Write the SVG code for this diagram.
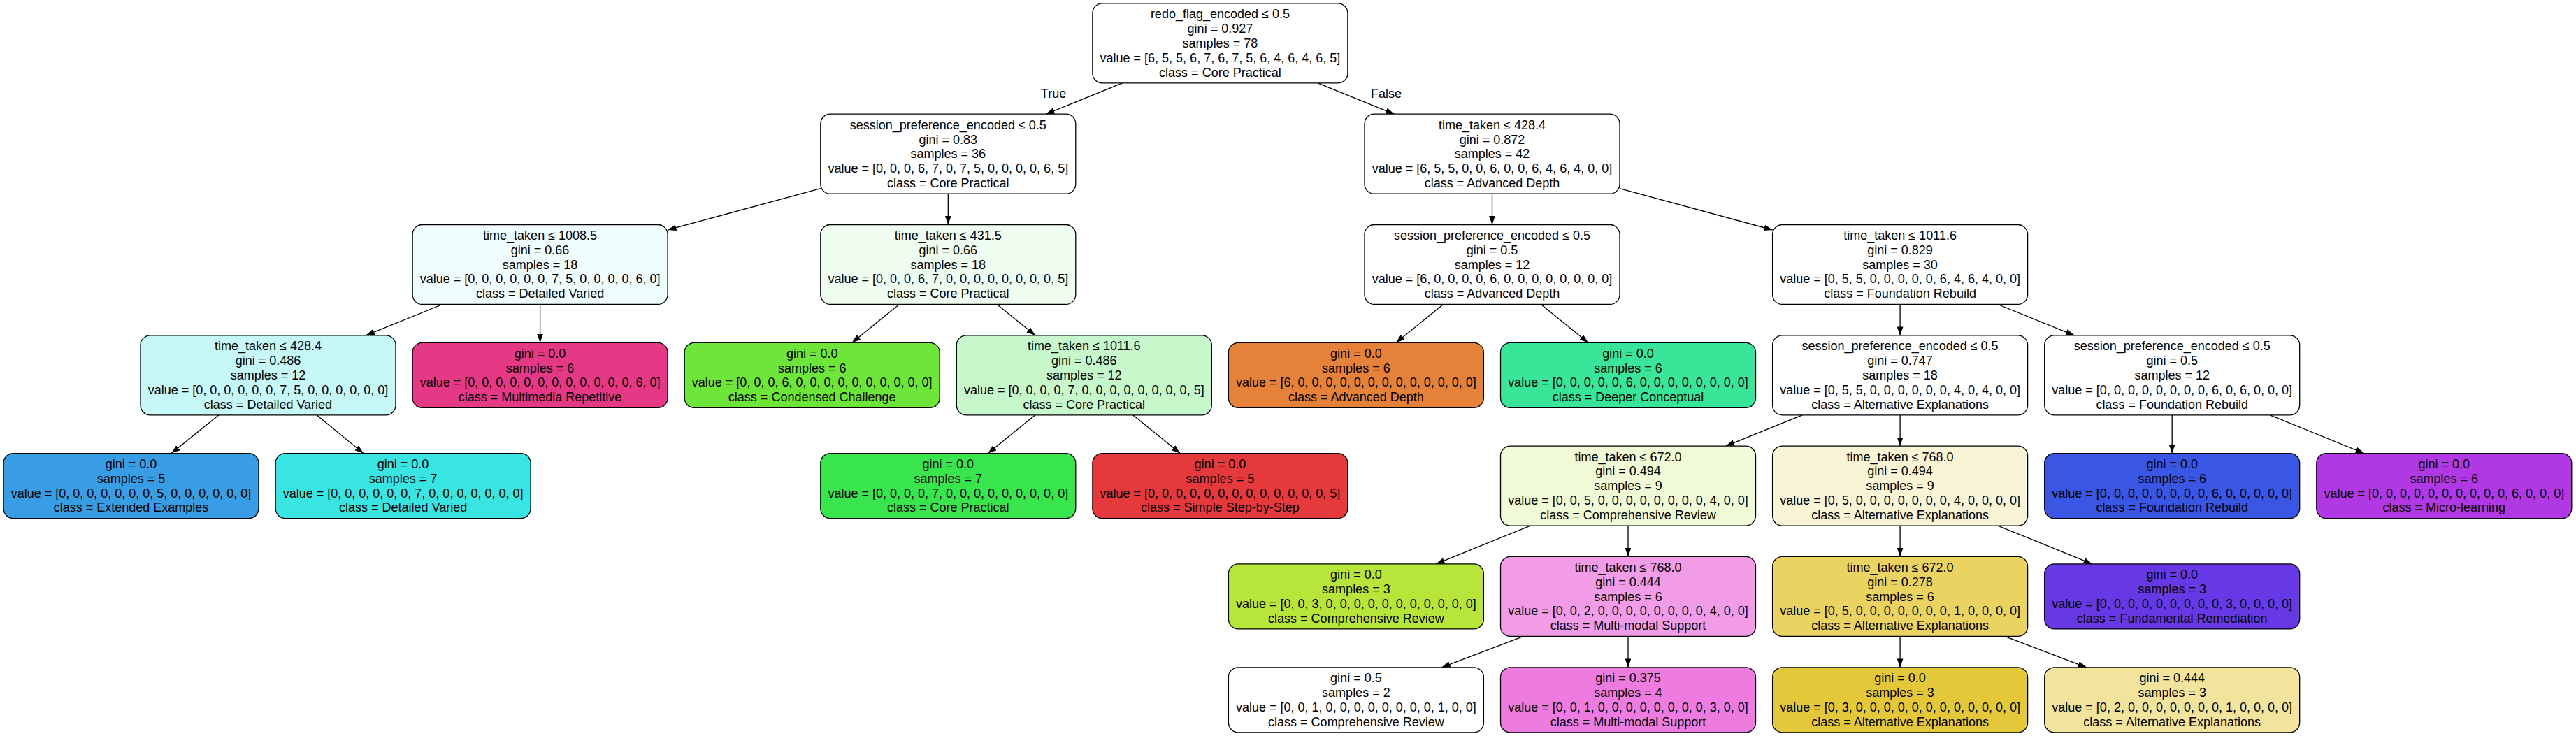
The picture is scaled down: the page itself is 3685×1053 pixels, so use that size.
<svg xmlns="http://www.w3.org/2000/svg" width="3685" height="1053" viewBox="0 0 3685 1053">
<style>
rect{stroke:#000;stroke-width:1.3}
text{font-family:"Liberation Sans",Helvetica,Arial,sans-serif;font-size:18px;text-anchor:middle;fill:#000}
.e line{stroke:#000;stroke-width:1.3;marker-end:url(#ah)}
</style>
<defs>
<marker id="ah" markerUnits="userSpaceOnUse" markerWidth="13" markerHeight="10" refX="12.4" refY="4.4" orient="auto">
<path d="M0,0 L12.4,4.4 L0,8.8 z" fill="#000"/>
</marker>
</defs>
<rect x="0" y="0" width="3685" height="1053" fill="#fff" style="stroke:none"/>
<g class="e" id="edges">
<line x1="1605.5" y1="118.8" x2="1496.1" y2="163.3"/>
<line x1="1885.2" y1="118.8" x2="1994.6" y2="163.3"/>
<line x1="1173.8" y1="269.7" x2="955.1" y2="329.0"/>
<line x1="1356.3" y1="277.2" x2="1356.3" y2="321.5"/>
<line x1="2134.5" y1="277.2" x2="2134.5" y2="321.5"/>
<line x1="2317.0" y1="269.7" x2="2535.6" y2="329.0"/>
<line x1="632.8" y1="435.5" x2="523.4" y2="479.8"/>
<line x1="772.6" y1="435.5" x2="772.6" y2="490.3"/>
<line x1="1286.3" y1="435.5" x2="1218.8" y2="490.3"/>
<line x1="1426.2" y1="435.5" x2="1480.9" y2="479.8"/>
<line x1="2064.5" y1="435.5" x2="1997.0" y2="490.3"/>
<line x1="2204.4" y1="435.5" x2="2271.9" y2="490.3"/>
<line x1="2718.1" y1="435.5" x2="2718.1" y2="479.8"/>
<line x1="2858.0" y1="435.5" x2="2967.4" y2="479.8"/>
<line x1="313.1" y1="593.8" x2="245.1" y2="648.6"/>
<line x1="452.9" y1="593.8" x2="519.9" y2="648.6"/>
<line x1="1480.9" y1="593.8" x2="1413.4" y2="648.6"/>
<line x1="1620.7" y1="593.8" x2="1688.2" y2="648.6"/>
<line x1="2578.3" y1="593.8" x2="2468.9" y2="638.1"/>
<line x1="2718.1" y1="593.8" x2="2718.1" y2="638.1"/>
<line x1="3107.2" y1="593.8" x2="3107.2" y2="648.6"/>
<line x1="3247.1" y1="593.8" x2="3382.0" y2="648.6"/>
<line x1="2189.2" y1="752.1" x2="2054.2" y2="806.9"/>
<line x1="2329.0" y1="752.1" x2="2329.0" y2="796.4"/>
<line x1="2718.1" y1="752.1" x2="2718.1" y2="796.4"/>
<line x1="2858.0" y1="752.1" x2="2992.9" y2="806.9"/>
<line x1="2179.3" y1="910.4" x2="2062.2" y2="954.8"/>
<line x1="2329.0" y1="910.4" x2="2329.0" y2="954.8"/>
<line x1="2718.1" y1="910.4" x2="2718.1" y2="954.8"/>
<line x1="2867.8" y1="910.4" x2="2984.9" y2="954.8"/>
</g>
<g id="edge-labels">
<text x="1507" y="139.5">True</text>
<text x="1983" y="139.5">False</text>
</g>
<g id="n0"><rect x="1562.9" y="4.9" width="365" height="114" rx="14" fill="#ffffff"/>
<text><tspan x="1745.4" y="26.4">redo_flag_encoded ≤ 0.5</tspan><tspan x="1745.4" y="47.2">gini = 0.927</tspan><tspan x="1745.4" y="68.0">samples = 78</tspan><tspan x="1745.4" y="88.8">value = [6, 5, 5, 6, 7, 6, 7, 5, 6, 4, 6, 4, 6, 5]</tspan><tspan x="1745.4" y="109.6">class = Core Practical</tspan></text></g>
<g id="n1"><rect x="1173.8" y="163.2" width="365" height="114" rx="14" fill="#ffffff"/>
<text><tspan x="1356.3" y="184.7">session_preference_encoded ≤ 0.5</tspan><tspan x="1356.3" y="205.5">gini = 0.83</tspan><tspan x="1356.3" y="226.3">samples = 36</tspan><tspan x="1356.3" y="247.1">value = [0, 0, 0, 6, 7, 0, 7, 5, 0, 0, 0, 0, 6, 5]</tspan><tspan x="1356.3" y="267.9">class = Core Practical</tspan></text></g>
<g id="n2"><rect x="1952.0" y="163.2" width="365" height="114" rx="14" fill="#ffffff"/>
<text><tspan x="2134.5" y="184.7">time_taken ≤ 428.4</tspan><tspan x="2134.5" y="205.5">gini = 0.872</tspan><tspan x="2134.5" y="226.3">samples = 42</tspan><tspan x="2134.5" y="247.1">value = [6, 5, 5, 0, 0, 6, 0, 0, 6, 4, 6, 4, 0, 0]</tspan><tspan x="2134.5" y="267.9">class = Advanced Depth</tspan></text></g>
<g id="n3"><rect x="590.1" y="321.5" width="365" height="114" rx="14" fill="#effdfd"/>
<text><tspan x="772.6" y="343.0">time_taken ≤ 1008.5</tspan><tspan x="772.6" y="363.8">gini = 0.66</tspan><tspan x="772.6" y="384.6">samples = 18</tspan><tspan x="772.6" y="405.4">value = [0, 0, 0, 0, 0, 0, 7, 5, 0, 0, 0, 0, 6, 0]</tspan><tspan x="772.6" y="426.2">class = Detailed Varied</tspan></text></g>
<g id="n4"><rect x="1173.8" y="321.5" width="365" height="114" rx="14" fill="#eefdf0"/>
<text><tspan x="1356.3" y="343.0">time_taken ≤ 431.5</tspan><tspan x="1356.3" y="363.8">gini = 0.66</tspan><tspan x="1356.3" y="384.6">samples = 18</tspan><tspan x="1356.3" y="405.4">value = [0, 0, 0, 6, 7, 0, 0, 0, 0, 0, 0, 0, 0, 5]</tspan><tspan x="1356.3" y="426.2">class = Core Practical</tspan></text></g>
<g id="n5"><rect x="1952.0" y="321.5" width="365" height="114" rx="14" fill="#ffffff"/>
<text><tspan x="2134.5" y="343.0">session_preference_encoded ≤ 0.5</tspan><tspan x="2134.5" y="363.8">gini = 0.5</tspan><tspan x="2134.5" y="384.6">samples = 12</tspan><tspan x="2134.5" y="405.4">value = [6, 0, 0, 0, 0, 6, 0, 0, 0, 0, 0, 0, 0, 0]</tspan><tspan x="2134.5" y="426.2">class = Advanced Depth</tspan></text></g>
<g id="n6"><rect x="2535.6" y="321.5" width="365" height="114" rx="14" fill="#ffffff"/>
<text><tspan x="2718.1" y="343.0">time_taken ≤ 1011.6</tspan><tspan x="2718.1" y="363.8">gini = 0.829</tspan><tspan x="2718.1" y="384.6">samples = 30</tspan><tspan x="2718.1" y="405.4">value = [0, 5, 5, 0, 0, 0, 0, 0, 6, 4, 6, 4, 0, 0]</tspan><tspan x="2718.1" y="426.2">class = Foundation Rebuild</tspan></text></g>
<g id="n7"><rect x="201.0" y="479.8" width="365" height="114" rx="14" fill="#c6f8f7"/>
<text><tspan x="383.5" y="501.3">time_taken ≤ 428.4</tspan><tspan x="383.5" y="522.1">gini = 0.486</tspan><tspan x="383.5" y="542.9">samples = 12</tspan><tspan x="383.5" y="563.7">value = [0, 0, 0, 0, 0, 0, 7, 5, 0, 0, 0, 0, 0, 0]</tspan><tspan x="383.5" y="584.5">class = Detailed Varied</tspan></text></g>
<g id="n8"><rect x="590.1" y="490.3" width="365" height="93" rx="14" fill="#e53986"/>
<text><tspan x="772.6" y="511.7">gini = 0.0</tspan><tspan x="772.6" y="532.5">samples = 6</tspan><tspan x="772.6" y="553.3">value = [0, 0, 0, 0, 0, 0, 0, 0, 0, 0, 0, 0, 6, 0]</tspan><tspan x="772.6" y="574.1">class = Multimedia Repetitive</tspan></text></g>
<g id="n9"><rect x="979.2" y="490.3" width="365" height="93" rx="14" fill="#6de539"/>
<text><tspan x="1161.7" y="511.7">gini = 0.0</tspan><tspan x="1161.7" y="532.5">samples = 6</tspan><tspan x="1161.7" y="553.3">value = [0, 0, 0, 6, 0, 0, 0, 0, 0, 0, 0, 0, 0, 0]</tspan><tspan x="1161.7" y="574.1">class = Condensed Challenge</tspan></text></g>
<g id="n10"><rect x="1368.3" y="479.8" width="365" height="114" rx="14" fill="#c6f8cc"/>
<text><tspan x="1550.8" y="501.3">time_taken ≤ 1011.6</tspan><tspan x="1550.8" y="522.1">gini = 0.486</tspan><tspan x="1550.8" y="542.9">samples = 12</tspan><tspan x="1550.8" y="563.7">value = [0, 0, 0, 0, 7, 0, 0, 0, 0, 0, 0, 0, 0, 5]</tspan><tspan x="1550.8" y="584.5">class = Core Practical</tspan></text></g>
<g id="n11"><rect x="1757.4" y="490.3" width="365" height="93" rx="14" fill="#e58139"/>
<text><tspan x="1939.9" y="511.7">gini = 0.0</tspan><tspan x="1939.9" y="532.5">samples = 6</tspan><tspan x="1939.9" y="553.3">value = [6, 0, 0, 0, 0, 0, 0, 0, 0, 0, 0, 0, 0, 0]</tspan><tspan x="1939.9" y="574.1">class = Advanced Depth</tspan></text></g>
<g id="n12"><rect x="2146.5" y="490.3" width="365" height="93" rx="14" fill="#39e598"/>
<text><tspan x="2329.0" y="511.7">gini = 0.0</tspan><tspan x="2329.0" y="532.5">samples = 6</tspan><tspan x="2329.0" y="553.3">value = [0, 0, 0, 0, 0, 6, 0, 0, 0, 0, 0, 0, 0, 0]</tspan><tspan x="2329.0" y="574.1">class = Deeper Conceptual</tspan></text></g>
<g id="n13"><rect x="2535.6" y="479.8" width="365" height="114" rx="14" fill="#ffffff"/>
<text><tspan x="2718.1" y="501.3">session_preference_encoded ≤ 0.5</tspan><tspan x="2718.1" y="522.1">gini = 0.747</tspan><tspan x="2718.1" y="542.9">samples = 18</tspan><tspan x="2718.1" y="563.7">value = [0, 5, 5, 0, 0, 0, 0, 0, 0, 4, 0, 4, 0, 0]</tspan><tspan x="2718.1" y="584.5">class = Alternative Explanations</tspan></text></g>
<g id="n14"><rect x="2924.7" y="479.8" width="365" height="114" rx="14" fill="#ffffff"/>
<text><tspan x="3107.2" y="501.3">session_preference_encoded ≤ 0.5</tspan><tspan x="3107.2" y="522.1">gini = 0.5</tspan><tspan x="3107.2" y="542.9">samples = 12</tspan><tspan x="3107.2" y="563.7">value = [0, 0, 0, 0, 0, 0, 0, 0, 6, 0, 6, 0, 0, 0]</tspan><tspan x="3107.2" y="584.5">class = Foundation Rebuild</tspan></text></g>
<g id="n15"><rect x="5.0" y="648.6" width="365" height="93" rx="14" fill="#399de5"/>
<text><tspan x="187.5" y="670.0">gini = 0.0</tspan><tspan x="187.5" y="690.8">samples = 5</tspan><tspan x="187.5" y="711.6">value = [0, 0, 0, 0, 0, 0, 0, 5, 0, 0, 0, 0, 0, 0]</tspan><tspan x="187.5" y="732.4">class = Extended Examples</tspan></text></g>
<g id="n16"><rect x="394.1" y="648.6" width="365" height="93" rx="14" fill="#39e5e2"/>
<text><tspan x="576.6" y="670.0">gini = 0.0</tspan><tspan x="576.6" y="690.8">samples = 7</tspan><tspan x="576.6" y="711.6">value = [0, 0, 0, 0, 0, 0, 7, 0, 0, 0, 0, 0, 0, 0]</tspan><tspan x="576.6" y="732.4">class = Detailed Varied</tspan></text></g>
<g id="n17"><rect x="1173.8" y="648.6" width="365" height="93" rx="14" fill="#39e54d"/>
<text><tspan x="1356.3" y="670.0">gini = 0.0</tspan><tspan x="1356.3" y="690.8">samples = 7</tspan><tspan x="1356.3" y="711.6">value = [0, 0, 0, 0, 7, 0, 0, 0, 0, 0, 0, 0, 0, 0]</tspan><tspan x="1356.3" y="732.4">class = Core Practical</tspan></text></g>
<g id="n18"><rect x="1562.9" y="648.6" width="365" height="93" rx="14" fill="#e5393c"/>
<text><tspan x="1745.4" y="670.0">gini = 0.0</tspan><tspan x="1745.4" y="690.8">samples = 5</tspan><tspan x="1745.4" y="711.6">value = [0, 0, 0, 0, 0, 0, 0, 0, 0, 0, 0, 0, 0, 5]</tspan><tspan x="1745.4" y="732.4">class = Simple Step-by-Step</tspan></text></g>
<g id="n19"><rect x="2146.5" y="638.1" width="365" height="114" rx="14" fill="#f1fad7"/>
<text><tspan x="2329.0" y="659.6">time_taken ≤ 672.0</tspan><tspan x="2329.0" y="680.4">gini = 0.494</tspan><tspan x="2329.0" y="701.2">samples = 9</tspan><tspan x="2329.0" y="722.0">value = [0, 0, 5, 0, 0, 0, 0, 0, 0, 0, 0, 4, 0, 0]</tspan><tspan x="2329.0" y="742.8">class = Comprehensive Review</tspan></text></g>
<g id="n20"><rect x="2535.6" y="638.1" width="365" height="114" rx="14" fill="#faf4d7"/>
<text><tspan x="2718.1" y="659.6">time_taken ≤ 768.0</tspan><tspan x="2718.1" y="680.4">gini = 0.494</tspan><tspan x="2718.1" y="701.2">samples = 9</tspan><tspan x="2718.1" y="722.0">value = [0, 5, 0, 0, 0, 0, 0, 0, 0, 4, 0, 0, 0, 0]</tspan><tspan x="2718.1" y="742.8">class = Alternative Explanations</tspan></text></g>
<g id="n21"><rect x="2924.7" y="648.6" width="365" height="93" rx="14" fill="#3956e5"/>
<text><tspan x="3107.2" y="670.0">gini = 0.0</tspan><tspan x="3107.2" y="690.8">samples = 6</tspan><tspan x="3107.2" y="711.6">value = [0, 0, 0, 0, 0, 0, 0, 0, 6, 0, 0, 0, 0, 0]</tspan><tspan x="3107.2" y="732.4">class = Foundation Rebuild</tspan></text></g>
<g id="n22"><rect x="3313.8" y="648.6" width="365" height="93" rx="14" fill="#b139e5"/>
<text><tspan x="3496.3" y="670.0">gini = 0.0</tspan><tspan x="3496.3" y="690.8">samples = 6</tspan><tspan x="3496.3" y="711.6">value = [0, 0, 0, 0, 0, 0, 0, 0, 0, 0, 6, 0, 0, 0]</tspan><tspan x="3496.3" y="732.4">class = Micro-learning</tspan></text></g>
<g id="n23"><rect x="1757.4" y="806.9" width="365" height="93" rx="14" fill="#b7e539"/>
<text><tspan x="1939.9" y="828.3">gini = 0.0</tspan><tspan x="1939.9" y="849.1">samples = 3</tspan><tspan x="1939.9" y="869.9">value = [0, 0, 3, 0, 0, 0, 0, 0, 0, 0, 0, 0, 0, 0]</tspan><tspan x="1939.9" y="890.7">class = Comprehensive Review</tspan></text></g>
<g id="n24"><rect x="2146.5" y="796.4" width="365" height="114" rx="14" fill="#f29ce8"/>
<text><tspan x="2329.0" y="817.9">time_taken ≤ 768.0</tspan><tspan x="2329.0" y="838.7">gini = 0.444</tspan><tspan x="2329.0" y="859.5">samples = 6</tspan><tspan x="2329.0" y="880.3">value = [0, 0, 2, 0, 0, 0, 0, 0, 0, 0, 0, 4, 0, 0]</tspan><tspan x="2329.0" y="901.1">class = Multi-modal Support</tspan></text></g>
<g id="n25"><rect x="2535.6" y="796.4" width="365" height="114" rx="14" fill="#ead361"/>
<text><tspan x="2718.1" y="817.9">time_taken ≤ 672.0</tspan><tspan x="2718.1" y="838.7">gini = 0.278</tspan><tspan x="2718.1" y="859.5">samples = 6</tspan><tspan x="2718.1" y="880.3">value = [0, 5, 0, 0, 0, 0, 0, 0, 0, 1, 0, 0, 0, 0]</tspan><tspan x="2718.1" y="901.1">class = Alternative Explanations</tspan></text></g>
<g id="n26"><rect x="2924.7" y="806.9" width="365" height="93" rx="14" fill="#6739e5"/>
<text><tspan x="3107.2" y="828.3">gini = 0.0</tspan><tspan x="3107.2" y="849.1">samples = 3</tspan><tspan x="3107.2" y="869.9">value = [0, 0, 0, 0, 0, 0, 0, 0, 0, 3, 0, 0, 0, 0]</tspan><tspan x="3107.2" y="890.7">class = Fundamental Remediation</tspan></text></g>
<g id="n27"><rect x="1757.4" y="954.8" width="365" height="93" rx="14" fill="#ffffff"/>
<text><tspan x="1939.9" y="976.2">gini = 0.5</tspan><tspan x="1939.9" y="997.0">samples = 2</tspan><tspan x="1939.9" y="1017.8">value = [0, 0, 1, 0, 0, 0, 0, 0, 0, 0, 0, 1, 0, 0]</tspan><tspan x="1939.9" y="1038.6">class = Comprehensive Review</tspan></text></g>
<g id="n28"><rect x="2146.5" y="954.8" width="365" height="93" rx="14" fill="#ee7be0"/>
<text><tspan x="2329.0" y="976.2">gini = 0.375</tspan><tspan x="2329.0" y="997.0">samples = 4</tspan><tspan x="2329.0" y="1017.8">value = [0, 0, 1, 0, 0, 0, 0, 0, 0, 0, 0, 3, 0, 0]</tspan><tspan x="2329.0" y="1038.6">class = Multi-modal Support</tspan></text></g>
<g id="n29"><rect x="2535.6" y="954.8" width="365" height="93" rx="14" fill="#e5c839"/>
<text><tspan x="2718.1" y="976.2">gini = 0.0</tspan><tspan x="2718.1" y="997.0">samples = 3</tspan><tspan x="2718.1" y="1017.8">value = [0, 3, 0, 0, 0, 0, 0, 0, 0, 0, 0, 0, 0, 0]</tspan><tspan x="2718.1" y="1038.6">class = Alternative Explanations</tspan></text></g>
<g id="n30"><rect x="2924.7" y="954.8" width="365" height="93" rx="14" fill="#f2e49c"/>
<text><tspan x="3107.2" y="976.2">gini = 0.444</tspan><tspan x="3107.2" y="997.0">samples = 3</tspan><tspan x="3107.2" y="1017.8">value = [0, 2, 0, 0, 0, 0, 0, 0, 0, 1, 0, 0, 0, 0]</tspan><tspan x="3107.2" y="1038.6">class = Alternative Explanations</tspan></text></g>
</svg>
